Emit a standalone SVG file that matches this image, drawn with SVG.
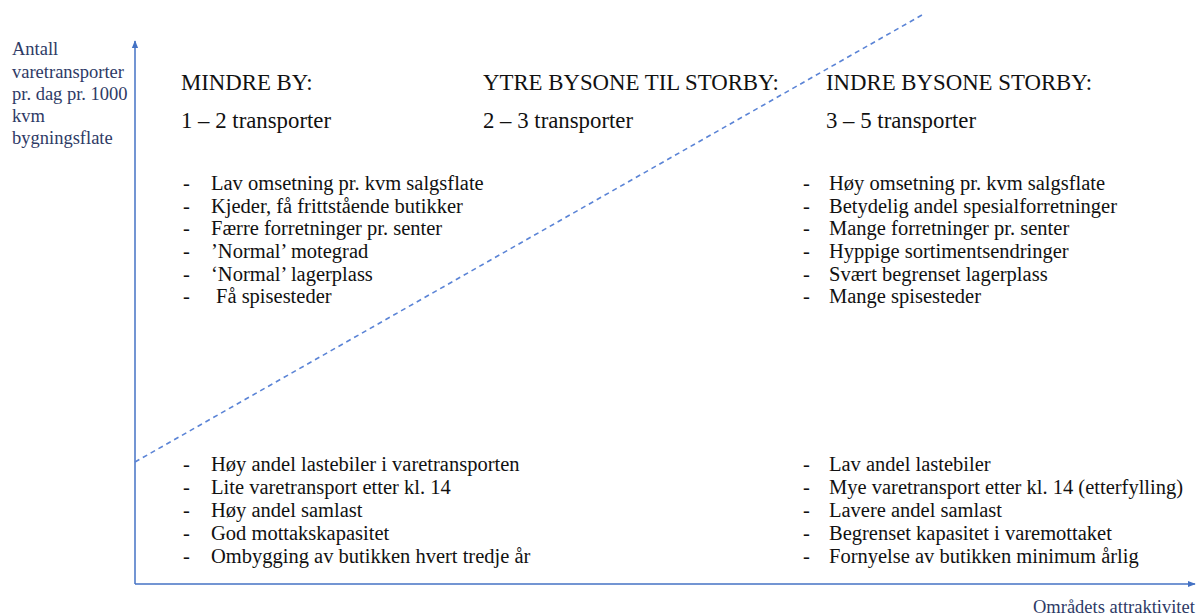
<svg xmlns="http://www.w3.org/2000/svg" width="1200" height="616" viewBox="0 0 1200 616">
<style>
.t{font-family:"Liberation Serif","Times New Roman",serif;fill:#111}
.h{font-size:22.8px}
.b{font-size:20.5px}
.ax{font-family:"Liberation Serif","Times New Roman",serif;fill:#2E3A66;font-size:18.5px}
</style>
<defs>
<marker id="arr" viewBox="0 0 10 10" refX="9" refY="5" markerWidth="8" markerHeight="8" orient="auto" markerUnits="userSpaceOnUse">
<path d="M0,1 L10,5 L0,9 z" fill="#4472C4"/>
</marker>
</defs>
<rect width="1200" height="616" fill="#fff"/>
<g id="connectors">
<line x1="135" y1="584" x2="135" y2="41" stroke="#4472C4" stroke-width="1.5" marker-end="url(#arr)"/>
<line x1="135" y1="584" x2="1195" y2="584" stroke="#4472C4" stroke-width="1.5" marker-end="url(#arr)"/>
<line x1="135" y1="462" x2="922" y2="15" stroke="#5B84D6" stroke-width="1.6" stroke-dasharray="5,4"/>
</g>
<g id="y-axis-label" class="ax">
<text x="12" y="55">Antall</text>
<text x="12" y="78">varetransporter</text>
<text x="12" y="100">pr. dag pr. 1000</text>
<text x="12" y="122">kvm</text>
<text x="12" y="144">bygningsflate</text>
</g>
<g id="x-axis-label" class="ax">
<text x="1033" y="613">Områdets attraktivitet</text>
</g>
<g id="mindre-by" class="t h">
<text x="181" y="90">MINDRE BY:</text>
<text x="181" y="128">1 – 2 transporter</text>
</g>
<g id="ytre-bysone" class="t h">
<text x="483" y="90">YTRE BYSONE TIL STORBY:</text>
<text x="483" y="128">2 – 3 transporter</text>
</g>
<g id="indre-bysone" class="t h">
<text x="826" y="90">INDRE BYSONE STORBY:</text>
<text x="826" y="128">3 – 5 transporter</text>
</g>
<g id="mindre-by-list" class="t b">
<text x="183" y="190">-</text><text x="211" y="190">Lav omsetning pr. kvm salgsflate</text>
<text x="183" y="213">-</text><text x="211" y="213">Kjeder, få frittstående butikker</text>
<text x="183" y="235">-</text><text x="211" y="235">Færre forretninger pr. senter</text>
<text x="183" y="258">-</text><text x="211" y="258">’Normal’ motegrad</text>
<text x="183" y="281">-</text><text x="211" y="281">‘Normal’ lagerplass</text>
<text x="183" y="303">-</text><text x="216" y="303">Få spisesteder</text>
</g>
<g id="indre-bysone-list" class="t b">
<text x="803" y="190">-</text><text x="829" y="190">Høy omsetning pr. kvm salgsflate</text>
<text x="803" y="213">-</text><text x="829" y="213">Betydelig andel spesialforretninger</text>
<text x="803" y="235">-</text><text x="829" y="235">Mange forretninger pr. senter</text>
<text x="803" y="258">-</text><text x="829" y="258">Hyppige sortimentsendringer</text>
<text x="803" y="281">-</text><text x="829" y="281">Svært begrenset lagerplass</text>
<text x="803" y="303">-</text><text x="829" y="303">Mange spisesteder</text>
</g>
<g id="mindre-by-transport" class="t b">
<text x="183" y="471">-</text><text x="211" y="471">Høy andel lastebiler i varetransporten</text>
<text x="183" y="494">-</text><text x="211" y="494">Lite varetransport etter kl. 14</text>
<text x="183" y="517">-</text><text x="211" y="517">Høy andel samlast</text>
<text x="183" y="540">-</text><text x="211" y="540">God mottakskapasitet</text>
<text x="183" y="563">-</text><text x="211" y="563">Ombygging av butikken hvert tredje år</text>
</g>
<g id="indre-bysone-transport" class="t b">
<text x="803" y="471">-</text><text x="829" y="471">Lav andel lastebiler</text>
<text x="803" y="494">-</text><text x="829" y="494">Mye varetransport etter kl. 14 (etterfylling)</text>
<text x="803" y="517">-</text><text x="829" y="517">Lavere andel samlast</text>
<text x="803" y="540">-</text><text x="829" y="540">Begrenset kapasitet i varemottaket</text>
<text x="803" y="563">-</text><text x="829" y="563">Fornyelse av butikken minimum årlig</text>
</g>
</svg>
